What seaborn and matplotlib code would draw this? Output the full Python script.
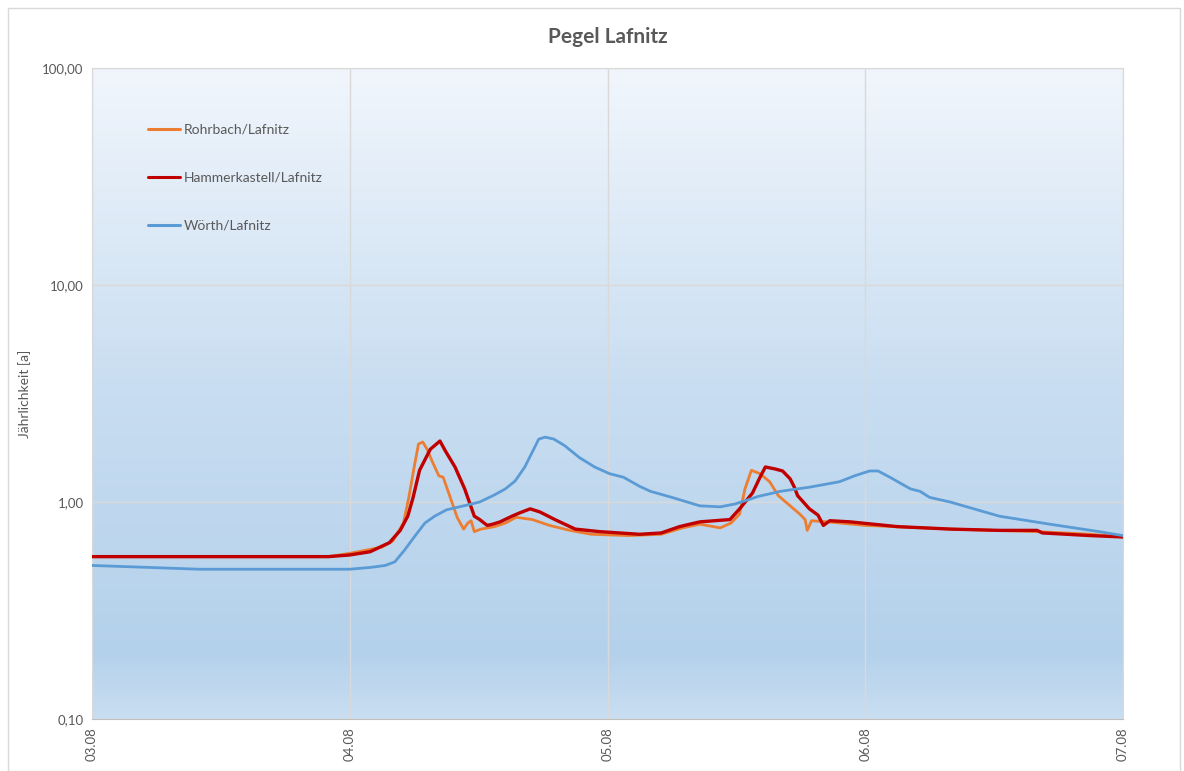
import numpy as np
import pandas as pd
import seaborn as sns
import matplotlib.pyplot as plt
from matplotlib.colors import LinearSegmentedColormap
from matplotlib.patches import Rectangle

# Stunden ab 03.08 00:00 und Jährlichkeit [a]
rohrbach_h = [0, 22, 24, 27, 28, 29, 29.5, 30, 30.4, 30.8, 31.2, 31.7, 32.3, 32.7, 33.3, 34,
              34.6, 35, 35.3, 35.6, 36.2, 37.5, 38.5, 39.5, 41, 42.6, 44.5, 46.5, 50, 53, 55,
              56.6, 58.5, 59.5, 60.3, 60.8, 61.4, 62.2, 63.1, 63.9, 65.9, 66.4, 66.6, 67.0,
              68.5, 72, 80, 88, 93, 96]
rohrbach_v = [0.56, 0.56, 0.58, 0.62, 0.66, 0.80, 1.05, 1.45, 1.85, 1.89, 1.75, 1.53, 1.32,
              1.30, 1.07, 0.85, 0.75, 0.80, 0.82, 0.73, 0.75, 0.77, 0.80, 0.85, 0.83, 0.78,
              0.74, 0.71, 0.70, 0.71, 0.76, 0.79, 0.76, 0.80, 0.88, 1.15, 1.40, 1.35, 1.24,
              1.07, 0.88, 0.83, 0.74, 0.82, 0.81, 0.78, 0.75, 0.73, 0.71, 0.69]

hammer_h = [0, 22, 24, 25.9, 27.7, 28.7, 29.4, 29.9, 30.5, 31.5, 32.4, 32.9, 33.8, 34.7, 35.6,
            36.1, 36.8, 37.3, 38.0, 39.1, 39.8, 40.8, 41.7, 43.1, 45, 47.3, 51, 53, 54.7, 56.6,
            59.4, 60.3, 61.5, 62.2, 62.7, 63.6, 64.3, 65.0, 65.4, 65.7, 66.8, 67.6, 68.1, 68.7,
            70.6, 75, 80, 84.5, 88, 88.5, 93, 96]
hammer_v = [0.56, 0.56, 0.57, 0.59, 0.65, 0.74, 0.86, 1.05, 1.40, 1.75, 1.91, 1.72, 1.45, 1.15,
            0.86, 0.83, 0.78, 0.79, 0.81, 0.86, 0.89, 0.93, 0.90, 0.83, 0.75, 0.73, 0.71, 0.72,
            0.77, 0.81, 0.83, 0.93, 1.10, 1.30, 1.45, 1.42, 1.39, 1.28, 1.17, 1.07, 0.93, 0.87,
            0.78, 0.82, 0.81, 0.77, 0.75, 0.74, 0.74, 0.72, 0.70, 0.69]

woerth_h = [0, 5, 10, 20, 24, 26, 27.3, 28.2, 29.1, 30.1, 31, 31.9, 33, 35, 36.1, 37.5, 38.5,
            39.4, 40.3, 41, 41.6, 42.2, 43, 44, 45.4, 46.8, 48.2, 49.5, 51, 52, 54, 56.6, 58.5,
            59.9, 61, 62, 64.1, 66.8, 69.6, 71, 72.4, 73.2, 74.3, 76.2, 77.1, 78, 79.9, 84.5,
            89.2, 93.8, 96]
woerth_v = [0.51, 0.50, 0.49, 0.49, 0.49, 0.50, 0.51, 0.53, 0.60, 0.70, 0.80, 0.86, 0.92, 0.97,
            1.00, 1.08, 1.15, 1.25, 1.45, 1.70, 1.95, 1.99, 1.95, 1.82, 1.60, 1.45, 1.35, 1.30,
            1.18, 1.12, 1.05, 0.96, 0.95, 0.98, 1.02, 1.06, 1.12, 1.17, 1.24, 1.32, 1.39, 1.39,
            1.30, 1.15, 1.12, 1.05, 1.00, 0.86, 0.79, 0.73, 0.70]

series = ["Rohrbach/Lafnitz", "Hammerkastell/Lafnitz", "Wörth/Lafnitz"]
colors = ["#ED7D31", "#C00000", "#5B9BD5"]

x_ticks = [0, 24, 48, 72, 96]
x_labels = ["03.08", "04.08", "05.08", "06.08", "07.08"]
y_ticks = [0.1, 1, 10, 100]
y_labels = ["0,10", "1,00", "10,00", "100,00"]

df = pd.concat([
    pd.DataFrame({"t": rohrbach_h, "val": rohrbach_v, "Pegel": series[0]}),
    pd.DataFrame({"t": hammer_h, "val": hammer_v, "Pegel": series[1]}),
    pd.DataFrame({"t": woerth_h, "val": woerth_v, "Pegel": series[2]}),
])

sns.set_style("white")
plt.rcParams['font.family'] = ['Lato', 'DejaVu Sans']
txt = "#595959"

fig = plt.figure(figsize=(11.84, 7.71), dpi=100)
ax = fig.add_axes([92 / 1184, 1 - 719 / 771, (1123 - 92) / 1184, (719 - 68) / 771])

# Hintergrund-Verlauf
grad = LinearSegmentedColormap.from_list(
    "bg", [(0, "#c9def1"), (0.1, "#b4d1eb"), (0.5, "#c8ddf1"), (1, "#f1f6fc")])
ax.imshow(np.linspace(0, 1, 256).reshape(-1, 1), cmap=grad, origin="lower", aspect="auto",
          extent=[0, 1, 0, 1], transform=ax.transAxes, zorder=0)

sns.lineplot(data=df, x="t", y="val", hue="Pegel", palette=colors, hue_order=series,
             sort=False, estimator=None, linewidth=2.2, ax=ax, zorder=3)
for ln, lw in zip(ax.lines, [2.0, 2.4, 2.0]):
    ln.set_linewidth(lw)

ax.set_yscale("log")
ax.set_xlim(0, 96)
ax.set_ylim(0.1, 100)
ax.set_xticks(x_ticks)
ax.set_xticklabels(x_labels, rotation=90, color=txt, fontsize=9.5)
ax.set_yticks(y_ticks)
ax.set_yticklabels(y_labels, color=txt, fontsize=9.5)
ax.yaxis.set_minor_locator(plt.NullLocator())
ax.tick_params(length=0, pad=6)
ax.grid(True, color="#d9d9d9", linewidth=1)
ax.set_axisbelow(False)
for s in ax.spines.values():
    s.set_color("#d9d9d9")
ax.spines["bottom"].set_color("#bfbfbf")

ax.set_xlabel("")
ax.set_ylabel("Jährlichkeit [a]", color=txt, fontsize=10, labelpad=8)
ax.set_title("Pegel Lafnitz", color=txt, fontsize=15, fontweight="bold", pad=18)

leg = ax.legend(loc="upper left", bbox_to_anchor=(0.042, 0.934), frameon=False,
                labelspacing=2.6, handlelength=2.3, handletextpad=0.3, fontsize=10)
for t in leg.get_texts():
    t.set_color(txt)

fig.patches.append(Rectangle((8 / 1184, 0), 1172 / 1184, 1 - 8 / 771,
                             transform=fig.transFigure, fill=False,
                             edgecolor="#d9d9d9", linewidth=1))

fig.savefig("out.png", dpi=100, facecolor="white")
